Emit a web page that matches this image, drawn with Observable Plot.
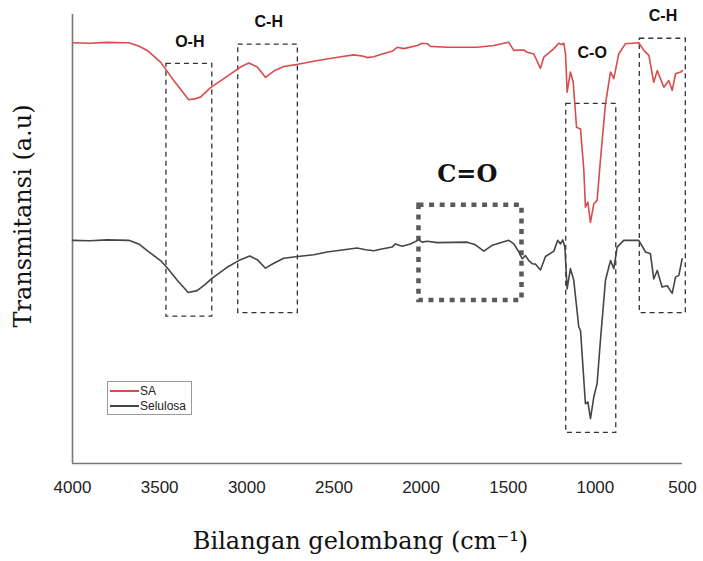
<!DOCTYPE html>
<html><head><meta charset="utf-8">
<script src="https://cdn.jsdelivr.net/npm/d3@7"></script>
<script src="https://cdn.jsdelivr.net/npm/@observablehq/plot@0.6"></script>
<style>
body{margin:0;background:#fff}
#wrap{position:relative;width:703px;height:561px}
#legend{position:absolute;left:107px;top:381px;width:85px;height:34px;border:1px solid #999;box-sizing:border-box;background:#fff;font:12px 'Liberation Sans',Arial,sans-serif;color:#222}
.row{position:absolute;left:2px;display:flex;align-items:center;height:14px;white-space:nowrap}
.sw{width:29px;height:2px;margin-right:1px}
</style></head><body><div id="wrap"></div>
<script>
// Wavenumber (cm^-1) and transmittance (a.u.)
const saWn = [4000,3900,3800,3700,3677,3620,3571,3495,3419,3333,3300,3266,3208,3113,3036,2988,2940,2893,2845,2788,2707,2616,2539,2460,2386,2330,2309,2271,2233,2166,2137,2099,2022,1994,1965,1946,1850,1678,1583,1497,1468,1411,1391,1353,1315,1296,1238,1210,1194,1181,1171,1162,1143,1127,1108,1085,1066,1057,1043,1028,1009,990,971,942,913,894,866,827,751,722,693,665,645,607,579,559,540,511,500];
const saT  = [93.7,93.6,93.8,93.7,93.7,93.0,92.0,89.4,85.3,81.0,81.2,81.6,83.7,86.2,88.3,89.2,88.3,86.0,87.4,88.4,88.9,89.6,90.1,90.6,91.0,90.7,90.4,90.6,91.1,91.8,92.7,92.4,93.1,93.6,93.5,92.9,92.7,92.7,93.1,93.8,92.0,92.1,91.6,91.2,88.0,90.5,92.4,93.6,93.3,93.6,91.2,82.7,87.2,84.9,74.9,74.5,65.3,57.1,58.2,53.7,57.8,58.6,67.5,80.1,87.2,85.7,91.2,93.5,93.7,92.0,90.9,84.9,87.5,83.8,85.3,83.1,86.8,87.2,87.5];

const selWn = [4000,3900,3800,3677,3620,3571,3495,3457,3399,3336,3285,3247,3198,3113,3036,2983,2940,2893,2845,2788,2707,2616,2539,2367,2319,2271,2233,2166,2147,2108,2061,2013,1994,1965,1907,1735,1688,1640,1592,1497,1468,1439,1420,1401,1382,1362,1343,1315,1286,1238,1216,1200,1187,1175,1162,1143,1124,1095,1085,1057,1043,1028,1009,990,971,942,913,894,875,837,751,712,684,665,645,617,588,559,540,521,502];
const selT  = [49.7,49.6,49.8,49.7,48.9,47.4,45.2,43.6,40.8,38.1,38.5,39.6,41.3,43.7,45.4,46.2,45.4,43.5,44.6,45.7,46.1,46.5,47.1,48.0,47.6,47.4,47.7,48.2,48.9,48.4,48.9,49.8,49.3,49.5,49.2,49.3,48.7,47.3,48.6,49.7,48.9,47.1,45.6,46.3,45.2,44.5,44.4,43.1,46.1,47.3,49.7,48.9,49.8,48.2,38.9,43.4,40.8,30.4,29.6,13.3,13.7,10.0,14.8,17.8,27.4,40.8,45.2,43.4,48.2,49.7,49.7,47.1,46.7,41.1,43.0,39.3,39.6,37.9,41.5,41.9,45.6];

// Annotated band regions
const bandLabels = ["O-H","C-H","C-O","C-H"];
const bandX1 = [3461,3049,1167,745];
const bandX2 = [3198,2707,880,481];
const bandY1 = [32.7,33.5,6.8,33.5];
const bandY2 = [89.0,93.3,80.1,94.6];
const labelWn = [3327,2874,1018,612];
const labelT  = [93.8,98.3,91.5,99.8];

const coLabel = ["C=O"];
const coX1 = [2012], coX2 = [1421], coY1 = [36.3], coY2 = [57.5];
const coLabelWn = [1735], coLabelT = [64.4];

const xTicks = [4000,3500,3000,2500,2000,1500,1000,500];
const seriesNames = ["SA","Selulosa"];
const seriesColors = ["#d84c4c","#454545"];

const sa = saWn.map((w,i)=>({w, t: saT[i]}));
const sel = selWn.map((w,i)=>({w, t: selT[i]}));
const bands = bandLabels.map((l,i)=>({l, x1:bandX1[i], x2:bandX2[i], y1:bandY1[i], y2:bandY2[i], lw:labelWn[i], lt:labelT[i]}));
const co = coLabel.map((l,i)=>({l, x1:coX1[i], x2:coX2[i], y1:coY1[i], y2:coY2[i], lw:coLabelWn[i], lt:coLabelT[i]}));

const chart = Plot.plot({
  width: 703, height: 561,
  marginLeft: 72, marginRight: 21, marginTop: 14, marginBottom: 98,
  style: {background: "#fff", overflow: "visible"},
  x: {domain: [4000, 500], axis: null},
  y: {domain: [0, 100], axis: null},
  marks: [
    Plot.ruleX([4000], {stroke: "#777", strokeWidth: 1.6}),
    Plot.ruleY([0], {stroke: "#777", strokeWidth: 1.6}),
    Plot.axisX({ticks: xTicks, tickSize: 0, tickPadding: 17, tickFormat: d => String(d), fontSize: 17, fontFamily: "Liberation Sans, Arial, sans-serif", fill: "#222", label: null}),
    Plot.rect(bands, {x1: "x1", x2: "x2", y1: "y1", y2: "y2", fill: "none", stroke: "#333", strokeWidth: 1.3, strokeDasharray: "5,4"}),
    Plot.rect(co, {x1: "x1", x2: "x2", y1: "y1", y2: "y2", fill: "none", stroke: "#5a5a5a", strokeWidth: 4.5, strokeDasharray: "5,5.6"}),
    Plot.line(sa, {x: "w", y: "t", stroke: seriesColors[0], strokeWidth: 1.6}),
    Plot.line(sel, {x: "w", y: "t", stroke: seriesColors[1], strokeWidth: 1.6}),
    Plot.text(bands, {x: "lw", y: "lt", text: "l", fontSize: 16, fontWeight: "bold", fontFamily: "Liberation Sans, Arial, sans-serif", fill: "#111"}),
    Plot.text(co, {x: "lw", y: "lt", text: "l", fontSize: 24, fontWeight: "bold", fontFamily: "DejaVu Serif, serif", fill: "#111"}),
    Plot.text(["Bilangan gelombang (cm\u207B\u00B9)"], {frameAnchor: "bottom", dx: -17, dy: 85, fontSize: 24, fontFamily: "DejaVu Serif, serif", fill: "#111"}),
    Plot.text(["Transmitansi (a.u)"], {frameAnchor: "left", rotate: -90, textAnchor: "middle", dx: -49, dy: -23, fontSize: 24, fontFamily: "DejaVu Serif, serif", fill: "#111"})
  ]
});
const wrap = document.getElementById("wrap");
wrap.appendChild(chart);

const legend = document.createElement("div");
legend.id = "legend";
seriesNames.forEach((n, i) => {
  const row = document.createElement("div");
  row.className = "row";
  row.style.top = (i === 0 ? 2 : 17) + "px";
  const sw = document.createElement("span");
  sw.className = "sw";
  sw.style.background = seriesColors[i];
  const tx = document.createElement("span");
  tx.textContent = n;
  row.appendChild(sw); row.appendChild(tx);
  legend.appendChild(row);
});
wrap.appendChild(legend);
</script>
</body></html>
